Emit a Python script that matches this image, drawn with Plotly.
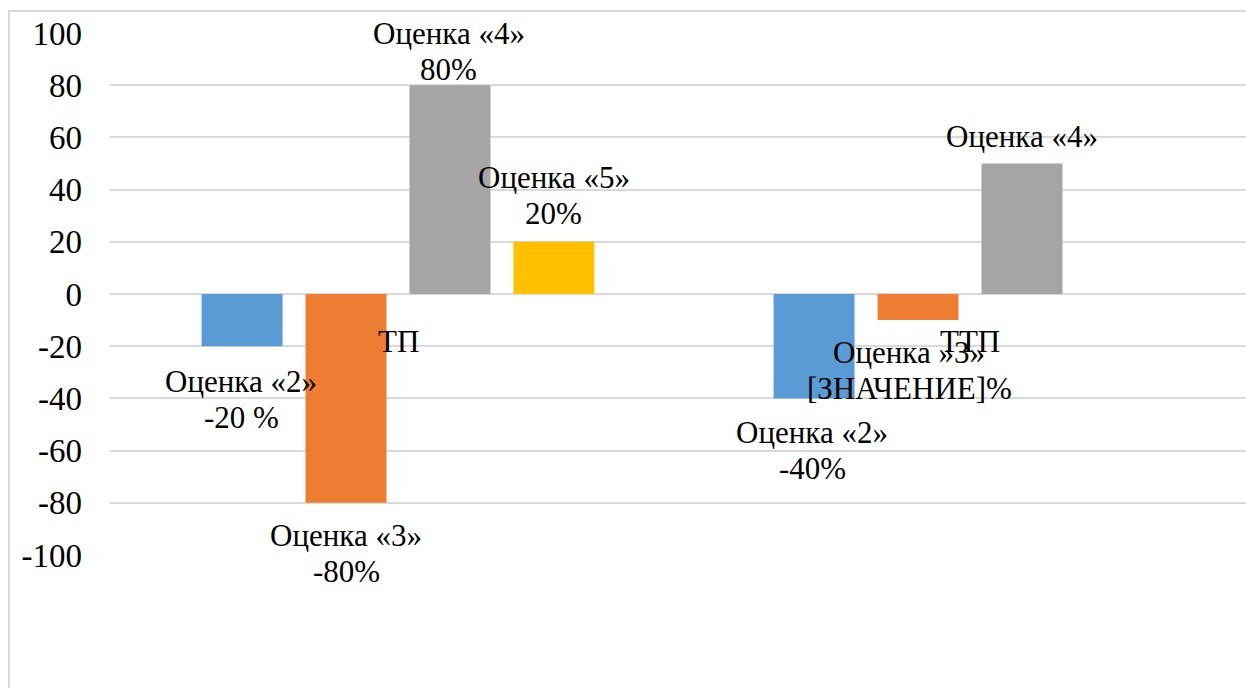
import plotly.graph_objects as go

# ---- data ----
categories = ["ТП", "ТТП"]
series_names = ["Оценка «2»", "Оценка «3»", "Оценка «4»", "Оценка «5»"]
values_2 = [-20, -40]
values_3 = [-80, -10]
values_4 = [80, 50]
values_5 = [20, 0]
labels_2 = ["Оценка «2»<br>-20 %", "Оценка «2»<br>-40%"]
labels_3 = ["Оценка «3»<br>-80%", "Оценка »3»<br>[ЗНАЧЕНИЕ]%"]
labels_4 = ["Оценка «4»<br>80%", "Оценка «4»"]
labels_5 = ["Оценка «5»<br>20%", ""]
y_ticks = [-100, -80, -60, -40, -20, 0, 20, 40, 60, 80, 100]

# ---- styles ----
colors = ["#5B9BD5", "#ED7D31", "#A5A5A5", "#FFC000"]
FONT = "'Liberation Serif', 'Times New Roman', Times, serif"
BARGAP = 0.273
BARGROUPGAP = 0.221
LABEL_SIZE = 31
LINE_STEP = 36
# pixel shift of the first label line from the bar end (series x category)
label_yshift = [[-35, -34], [-33, -32], [52, 27], [64, 0]]
label_xshift = [[-1, -2], [0, -9], [-1, 0], [0, 0]]

all_values = [values_2, values_3, values_4, values_5]
all_labels = [labels_2, labels_3, labels_4, labels_5]
x_idx = list(range(len(categories)))

fig = go.Figure()
for name, vals, col in zip(series_names, all_values, colors):
    fig.add_trace(go.Bar(
        x=x_idx, y=vals, name=name,
        marker=dict(color=col, line=dict(width=0)),
        hoverinfo="skip",
    ))

n = len(series_names)
slot = (1 - BARGAP) / n
annotations = []
for j in range(n):
    for i in x_idx:
        txt = all_labels[j][i]
        if not txt:
            continue
        for k, line in enumerate(txt.split("<br>")):
            annotations.append(dict(
                x=i + (j - (n - 1) / 2) * slot, y=all_values[j][i],
                xref="x", yref="y", text=line, showarrow=False,
                xanchor="center", yanchor="middle",
                yshift=label_yshift[j][i] - k * LINE_STEP,
                xshift=label_xshift[j][i],
                font=dict(family=FONT, size=LABEL_SIZE, color="#000000"),
            ))
for i, cat in enumerate(categories):
    annotations.append(dict(
        x=i, y=0, xref="x", yref="y", text=cat, showarrow=False,
        xanchor="center", yanchor="middle", yshift=-47,
        font=dict(family=FONT, size=31, color="#000000"),
    ))

W, H = 1246, 688
ML, MT, MB = 110, 33, 133
plot_w = W - ML
cat_px = 572.0
x0 = -(398 - ML) / cat_px
x1 = x0 + plot_w / cat_px
plot_h = H - MT - MB

fig.update_layout(
    width=W, height=H,
    margin=dict(l=ML, r=0, t=MT, b=MB, pad=0),
    paper_bgcolor="white", plot_bgcolor="white",
    font=dict(family=FONT, color="#000000"),
    barmode="group", bargap=BARGAP, bargroupgap=BARGROUPGAP,
    showlegend=False,
    annotations=annotations,
    shapes=[dict(
        type="rect", xref="paper", yref="paper",
        x0=(9 - ML) / plot_w, x1=1.5,
        y0=-1.0, y1=(H - MB - 11) / plot_h,
        line=dict(color="#d9d9d9", width=2), layer="below",
    )],
    xaxis=dict(range=[x0, x1], showticklabels=False, showgrid=False,
               zeroline=False, showline=False, fixedrange=True),
    yaxis=dict(range=[-100, 100], tickvals=y_ticks,
               ticktext=[str(v) for v in y_ticks],
               showgrid=True, gridcolor="#d9d9d9", gridwidth=2,
               zeroline=True, zerolinecolor="#d9d9d9", zerolinewidth=2,
               showline=False, ticks="", ticklabelstandoff=27,
               tickfont=dict(family=FONT, size=33, color="#000000")),
)

fig.write_html("out.html")
